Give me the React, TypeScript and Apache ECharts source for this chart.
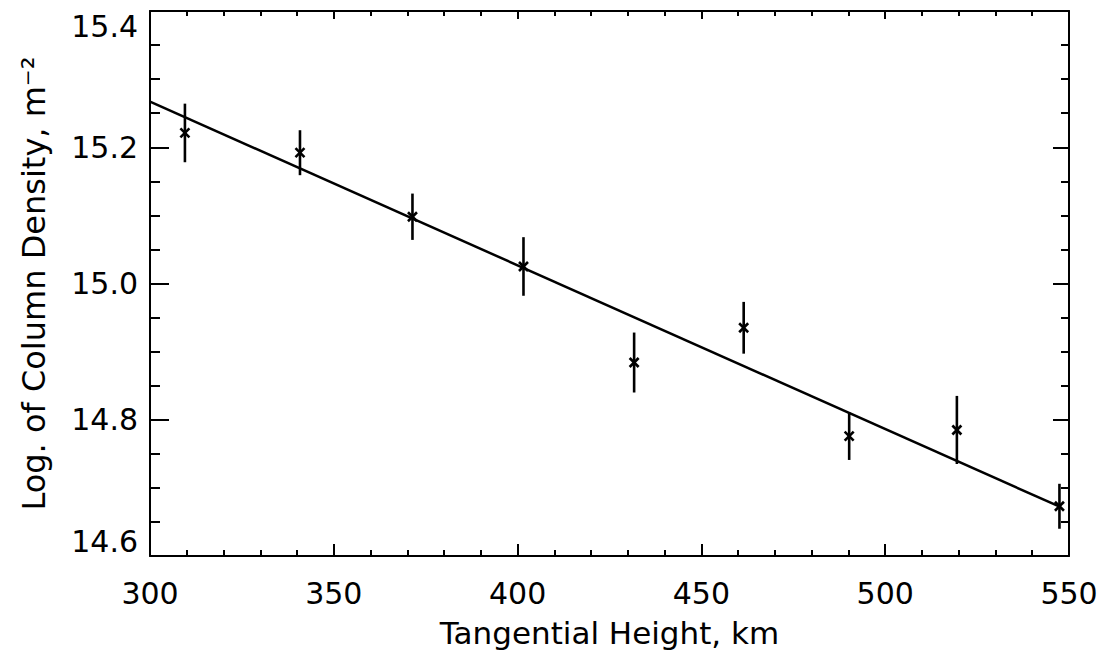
import React, { useEffect, useRef } from "react";
import * as echarts from "echarts";

const heights = [309.5, 340.8, 371.4, 401.6, 431.7, 461.5, 490.2, 519.5, 547.4];
const logDensity = [15.221, 15.192, 15.098, 15.025, 14.884, 14.935, 14.776, 14.785, 14.673];
const errors = [0.043, 0.033, 0.034, 0.043, 0.044, 0.038, 0.035, 0.05, 0.033];
const fitX = [300, 547.6];
const fitY = [15.267, 14.672];
const xTitle = "Tangential Height, km";
const yTitle = "Log. of Column Density, m⁻²";

const FONT = "DejaVu Sans";

export default function App() {
  const ref = useRef<HTMLDivElement>(null);
  useEffect(() => {
    if (!ref.current) return;
    const chart = echarts.init(ref.current, null, { renderer: "svg" });
    const pts = heights.map((h, i) => [h, logDensity[i], errors[i]]);
    const axisLine = { show: true, onZero: false, lineStyle: { color: "#000", width: 2 } };
    chart.setOption({
      animation: false,
      backgroundColor: "#fff",
      grid: { left: 150, right: 39, top: 11, bottom: 111, containLabel: false },
      xAxis: [
        {
          type: "value",
          position: "bottom",
          min: 300,
          max: 550,
          interval: 50,
          axisLine,
          axisTick: { show: true, inside: true, length: 12, lineStyle: { color: "#000", width: 2 } },
          minorTick: { show: true, splitNumber: 5, length: 6, lineStyle: { color: "#000", width: 2 } },
          splitLine: { show: false },
          axisLabel: { margin: 22, color: "#000", fontFamily: FONT, fontSize: 30 },
          name: xTitle,
          nameLocation: "middle",
          nameGap: 61,
          nameTextStyle: { color: "#000", fontFamily: FONT, fontSize: 31 },
        },
        {
          type: "value",
          position: "top",
          min: 300,
          max: 550,
          interval: 50,
          axisLine,
          axisTick: { show: true, inside: true, length: 8, lineStyle: { color: "#000", width: 2 } },
          minorTick: { show: true, splitNumber: 5, length: 5, lineStyle: { color: "#000", width: 2 } },
          splitLine: { show: false },
          axisLabel: { show: false },
        },
      ],
      yAxis: [
        {
          type: "value",
          position: "left",
          min: 14.6,
          max: 15.4,
          interval: 0.2,
          axisLine,
          axisTick: { show: true, inside: true, length: 19, lineStyle: { color: "#000", width: 2 } },
          minorTick: { show: true, splitNumber: 4, length: 10, lineStyle: { color: "#000", width: 2 } },
          splitLine: { show: false },
          axisLabel: {
            margin: 12,
            color: "#000",
            fontFamily: FONT,
            fontSize: 30,
            formatter: (v: number) => v.toFixed(1),
            verticalAlignMinLabel: "bottom",
            verticalAlignMaxLabel: "top",
          },
          name: yTitle,
          nameLocation: "middle",
          nameGap: 100,
          nameTextStyle: { color: "#000", fontFamily: FONT, fontSize: 32 },
        },
        {
          type: "value",
          position: "right",
          min: 14.6,
          max: 15.4,
          interval: 0.2,
          axisLine,
          axisTick: { show: true, inside: true, length: 16, lineStyle: { color: "#000", width: 2 } },
          minorTick: { show: true, splitNumber: 4, length: 8, lineStyle: { color: "#000", width: 2 } },
          splitLine: { show: false },
          axisLabel: { show: false },
        },
      ],
      series: [
        {
          type: "line",
          xAxisIndex: 0,
          yAxisIndex: 0,
          data: fitX.map((x, i) => [x, fitY[i]]),
          showSymbol: false,
          symbol: "none",
          lineStyle: { color: "#000", width: 2.5 },
          silent: true,
        },
        {
          type: "custom",
          xAxisIndex: 0,
          yAxisIndex: 0,
          data: pts,
          renderItem: (params: any, api: any) => {
            const x = api.value(0);
            const y = api.value(1);
            const e = api.value(2);
            const c = api.coord([x, y]);
            const top = api.coord([x, y + e]);
            const bot = api.coord([x, y - e]);
            const s = { stroke: "#000", lineWidth: 2.6 };
            const m = 4.5;
            return {
              type: "group",
              children: [
                { type: "line", shape: { x1: top[0], y1: top[1], x2: bot[0], y2: bot[1] }, style: s },
                { type: "line", shape: { x1: c[0] - m, y1: c[1] - m, x2: c[0] + m, y2: c[1] + m }, style: s },
                { type: "line", shape: { x1: c[0] - m, y1: c[1] + m, x2: c[0] + m, y2: c[1] - m }, style: s },
              ],
            };
          },
          silent: true,
        },
      ],
    });
    return () => chart.dispose();
  }, []);
  return (
    <div
      ref={ref}
      style={{ position: "fixed", left: 0, top: 0, width: 1108, height: 667, background: "#fff" }}
    />
  );
}
